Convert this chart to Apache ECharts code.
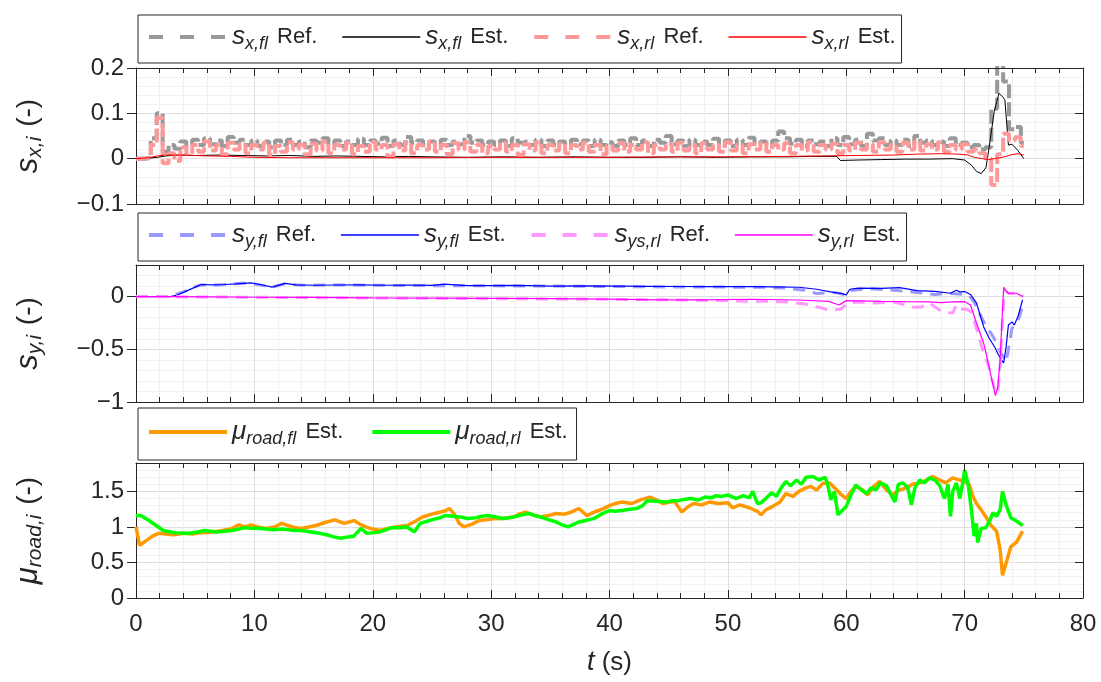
<!DOCTYPE html>
<html>
<head>
<meta charset="utf-8">
<script src="https://cdn.jsdelivr.net/npm/echarts@6/dist/echarts.min.js"></script>
<style>
  html, body { margin: 0; padding: 0; background: #ffffff; }
  #chart { width: 1101px; height: 682px; }
</style>
</head>
<body>
<div id="chart"></div>
<script>
// ---------- time base of the reference slip signals (0 ... 75 s, 0.5 s samples) ----------
const REF_DT = 0.5;
const REF_SAMPLES = 151;
const tRef = Array.from({ length: REF_SAMPLES }, (_, i) => i * REF_DT);

// ---------- longitudinal slip s_x ----------
const sxflRef = [
  0, 0, 0.001, 0.045, 0.1, 0.015, 0.03, 0.022, 0.038, 0.028,
  0.042, 0.03, 0.045, 0.032, 0.04, 0.028, 0.048, 0.035, 0.042, 0.03,
  0.04, 0.028, 0.038, 0.025, 0.04, 0.03, 0.042, 0.03, 0.038, 0.025,
  0.04, 0.035, 0.045, 0.03, 0.04, 0.028, 0.038, 0.03, 0.044, 0.03,
  0.04, 0.033, 0.046, 0.028, 0.04, 0.03, 0.048, 0.035, 0.04, 0.03,
  0.038, 0.028, 0.042, 0.03, 0.038, 0.032, 0.05, 0.035, 0.04, 0.03,
  0.038, 0.03, 0.04, 0.028, 0.045, 0.035, 0.038, 0.03, 0.042, 0.028,
  0.04, 0.03, 0.038, 0.03, 0.042, 0.032, 0.04, 0.028, 0.042, 0.03,
  0.036, 0.028, 0.04, 0.03, 0.045, 0.03, 0.04, 0.028, 0.042, 0.035,
  0.05, 0.032, 0.04, 0.028, 0.042, 0.03, 0.038, 0.03, 0.044, 0.03,
  0.04, 0.028, 0.042, 0.03, 0.046, 0.032, 0.038, 0.028, 0.04, 0.06,
  0.045, 0.033, 0.042, 0.028, 0.04, 0.032, 0.038, 0.028, 0.045, 0.03,
  0.048, 0.032, 0.042, 0.028, 0.055, 0.04, 0.045, 0.03, 0.04, 0.03,
  0.042, 0.028, 0.05, 0.035, 0.04, 0.03, 0.038, 0.028, 0.045, 0.03,
  0.035, 0.025, 0.03, 0.02, 0.025, 0.11, 0.22, 0.17, 0.065, 0.07,
  0.035
];
const sxrlRef = [
  0, 0, 0.002, 0.03, 0.09, -0.01, 0.012, -0.005, 0.025, 0.01,
  0.03, 0.015, 0.038, 0.018, 0.03, 0.01, 0.035, 0.02, 0.032, 0.012,
  0.03, 0.02, 0.035, 0.008, 0.028, 0.015, 0.036, 0.02, 0.03, 0.01,
  0.033, 0.018, 0.038, 0.012, 0.03, 0.02, 0.035, 0.01, 0.028, 0.015,
  0.037, 0.02, 0.03, 0.005, 0.032, 0.018, 0.035, 0.012, 0.03, 0.02,
  0.038, 0.015, 0.03, 0.01, 0.034, 0.02, 0.036, 0.015, 0.03, 0.012,
  0.028, 0.02, 0.035, 0.015, 0.03, 0.008, 0.032, 0.018, 0.036, 0.012,
  0.03, 0.018, 0.033, 0.012, 0.03, 0.02, 0.035, 0.015, 0.03, 0.01,
  0.028, 0.018, 0.034, 0.015, 0.03, 0.02, 0.036, 0.012, 0.03, 0.02,
  0.033, 0.015, 0.035, 0.018, 0.03, 0.012, 0.034, 0.02, 0.03, 0.015,
  0.036, 0.018, 0.03, 0.012, 0.032, 0.02, 0.035, 0.015, 0.03, 0.02,
  0.034, 0.012, 0.03, 0.018, 0.036, 0.015, 0.03, 0.02, 0.033, 0.012,
  0.03, 0.018, 0.035, 0.02, 0.032, 0.015, 0.036, 0.02, 0.03, 0.015,
  0.035, 0.02, 0.038, 0.018, 0.032, 0.02, 0.036, 0.015, 0.03, 0.02,
  0.032, 0.015, 0.02, 0.012, 0.0, -0.058, 0.01, 0.055, 0.04, 0.047,
  0.028
];
const tSxflEst = [0, 1, 1.8, 2.5, 3.5, 5, 7, 9, 11, 13, 15, 17, 19, 21, 23, 25, 28, 31, 34, 37,
  40, 43, 46, 49, 52, 55, 57, 59.2, 59.5, 61, 63, 65, 67, 69, 70, 70.6, 71, 71.4, 71.8, 72.1,
  72.5, 72.9, 73.2, 73.4, 73.7, 74, 74.5, 75];
const sxflEst = [0, 0.001, 0.003, 0.006, 0.008, 0.007, 0.008, 0.007, 0.006, 0.007, 0.005, 0.006, 0.005, 0.004, 0.005, 0.004, 0.003, 0.004, 0.003, 0.004,
  0.003, 0.003, 0.004, 0.003, 0.004, 0.004, 0.005, 0.005, -0.004, -0.003, -0.002, -0.001, -0.001, 0.0, -0.003, -0.015, -0.028, -0.033, -0.02, 0.03,
  0.104, 0.144, 0.137, 0.13, 0.03, 0.032, 0.018, 0.0];
const tSxrlEst = [0, 1, 1.8, 2.5, 4, 6, 8, 10, 13, 16, 20, 25, 30, 35, 40, 45, 50, 55, 58, 61,
  64, 66, 68, 69.5, 70.3, 70.8, 71.5, 72, 72.5, 73, 73.5, 74, 74.5, 75];
const sxrlEst = [0, 0.002, 0.006, 0.008, 0.008, 0.006, 0.005, 0.003, 0.002, 0.002, 0.002, 0.002, 0.003, 0.003, 0.003, 0.004, 0.004, 0.005, 0.006, 0.007,
  0.008, 0.01, 0.011, 0.01, 0.008, 0.003, 0.0, -0.002, 0.0, 0.002, 0.005, 0.009, 0.011, 0.008];

// ---------- lateral slip s_y ----------
const tSyflRef = [0, 2.5, 3, 4, 5, 5.5, 7, 9, 10, 11.5, 12.5, 14, 17, 20, 25, 30, 35, 40, 45, 50,
  53, 55, 56.5, 57.5, 59, 60, 60.5, 62, 64, 66, 67.5, 68.5, 69.5, 70.3, 70.8, 71.3, 71.8, 72.3, 72.7, 73,
  73.3, 73.5, 73.7, 74, 74.3, 74.6, 75];
const syflRef = [0, 0, 0.008, 0.045, 0.095, 0.11, 0.11, 0.128, 0.12, 0.09, 0.12, 0.108, 0.11, 0.108, 0.104, 0.102, 0.1, 0.096, 0.092, 0.09,
  0.088, 0.08, 0.06, 0.03, 0.04, 0.015, 0.06, 0.075, 0.06, 0.04, 0.02, 0.03, 0.025, 0.02, -0.05, -0.17, -0.28, -0.36, -0.44, -0.52,
  -0.58, -0.62, -0.5, -0.3, -0.26, -0.2, -0.05];
const tSyflEst = [0, 2.9, 3.5, 4.2, 5.0, 5.5, 6.5, 7.5, 8.5, 9.7, 10.5, 11.5, 12.6, 13.5, 15, 17, 19, 21, 23, 25,
  26, 28, 30, 32, 35, 38, 41, 43, 46, 48, 50, 52, 54, 56, 57.5, 58.9, 59.6, 60, 60.3, 61,
  63, 64.5, 66, 67.5, 68.8, 69.3, 69.6, 70, 70.5, 71, 71.6, 72.1, 72.6, 72.8, 73.1, 73.3, 73.5, 73.7, 74.0, 74.2,
  74.5, 74.9];
const syflEst = [0, 0, 0.015, 0.05, 0.09, 0.115, 0.112, 0.115, 0.12, 0.13, 0.115, 0.09, 0.125, 0.112, 0.108, 0.11, 0.112, 0.108, 0.11, 0.107,
  0.118, 0.105, 0.104, 0.106, 0.1, 0.102, 0.1, 0.098, 0.096, 0.094, 0.095, 0.095, 0.092, 0.089, 0.07, 0.041, 0.03, 0.016, 0.07, 0.08,
  0.079, 0.085, 0.057, 0.05, 0.032, 0.06, 0.045, 0.048, 0.02, -0.06, -0.285, -0.4, -0.49, -0.54, -0.6, -0.63, -0.48, -0.27, -0.24, -0.27,
  -0.19, -0.03];
const tSyrlRef = [0, 5, 10, 15, 20, 25, 30, 35, 40, 45, 50, 53, 55, 56.5, 58, 58.6, 59.5, 60.2, 61, 62.5,
  64, 65.7, 66.3, 67, 68.2, 69, 69.3, 69.6, 70.2, 70.6, 71, 71.5, 72, 72.3, 72.6, 72.8, 73, 73.2, 73.4, 73.7,
  74.2, 74.6, 75];
const syrlRef = [0, -0.003, -0.006, -0.01, -0.013, -0.016, -0.02, -0.022, -0.026, -0.03, -0.04, -0.045, -0.05, -0.07, -0.11, -0.13, -0.12, -0.06, -0.05, -0.06,
  -0.05, -0.1, -0.1, -0.06, -0.15, -0.155, -0.08, -0.12, -0.12, -0.15, -0.3, -0.5, -0.65, -0.78, -0.9, -0.92, -0.65, -0.2, 0.06, 0.03,
  0.03, 0.025, 0.0];
const tSyrlEst = [0, 3, 6, 10, 15, 20, 25, 30, 35, 40, 44, 48, 52, 56, 58.5, 59.4, 60, 61, 63, 65,
  67, 68, 69, 70, 70.5, 71, 71.6, 72, 72.3, 72.6, 72.8, 73.0, 73.2, 73.3, 73.5, 73.7, 74.4, 74.9];
const syrlEst = [0, 0, -0.003, -0.006, -0.008, -0.012, -0.014, -0.017, -0.02, -0.024, -0.03, -0.03, -0.025, -0.032, -0.045, -0.08, -0.038, -0.04, -0.045, -0.048,
  -0.05, -0.057, -0.05, -0.048, -0.08, -0.25, -0.44, -0.63, -0.79, -0.94, -0.86, -0.6, -0.13, 0.089, 0.057, 0.032, 0.032, 0.0];

// ---------- road friction estimate mu_road ----------
const tMuFl = [0, 0.3, 0.8, 1.4, 1.9, 2.5, 3.2, 4, 4.8, 5.5, 6.5, 7.3, 8, 8.7, 9.2, 9.7, 10.3, 11, 11.7, 12.3,
  13.2, 13.9, 14.6, 15.2, 16.1, 16.8, 17.6, 18.4, 18.9, 19.4, 20.0, 20.6, 21.3, 21.9, 22.9, 23.6, 24.2, 25.2, 26, 26.5,
  27.0, 27.3, 27.7, 28.4, 29, 29.6, 30.3, 31, 31.9, 32.4, 32.9, 33.5, 34.2, 34.8, 35.5, 36.2, 36.8, 37.4, 38.1, 38.7,
  39.4, 40, 40.5, 41, 41.9, 42.6, 43.4, 44, 44.5, 45.5, 46.1, 46.6, 47.1, 47.8, 48.4, 49.2, 50,
  50.4, 51.0, 51.8, 52.5, 52.8, 53.2, 53.8, 54.4, 54.9, 55.5, 56.0, 56.6, 57.0, 57.5, 58.0, 58.6, 59.2, 59.6, 60.0, 60.4,
  60.8, 61.4, 61.8, 62.2, 62.8, 63.4, 63.9, 64.5, 65.1, 65.6, 66.2, 66.8, 67.3, 67.9, 68.4, 69.0, 69.6, 70.0, 70.4, 70.7,
  71.0, 71.4, 71.8, 72.2, 72.7, 73.0, 73.2, 73.5, 73.9, 74.4, 74.9];
const muFl = [1.0, 0.74, 0.8, 0.87, 0.91, 0.9, 0.89, 0.91, 0.9, 0.92, 0.93, 0.95, 0.97, 1.03, 1.0, 1.03, 1.0, 0.98, 1.0, 1.05,
  1.0, 0.98, 1.0, 1.02, 1.07, 1.1, 1.05, 1.09, 1.04, 1.0, 0.97, 0.95, 0.98, 1.0, 1.02, 1.08, 1.14, 1.19, 1.22, 1.26,
  1.15, 1.05, 1.0, 1.04, 1.09, 1.1, 1.12, 1.12, 1.14, 1.18, 1.21, 1.17, 1.14, 1.16, 1.19, 1.18, 1.21, 1.26, 1.16, 1.21,
  1.25, 1.3, 1.33, 1.35, 1.33, 1.38, 1.42, 1.38, 1.33, 1.36, 1.21, 1.28, 1.33, 1.31, 1.35, 1.33, 1.34,
  1.27, 1.31, 1.27, 1.22, 1.17, 1.24, 1.29, 1.35, 1.47, 1.43, 1.5, 1.55, 1.57, 1.52, 1.61, 1.62, 1.52, 1.45, 1.4, 1.5,
  1.57, 1.52, 1.45, 1.55, 1.64, 1.52, 1.45, 1.52, 1.55, 1.6, 1.62, 1.66, 1.71, 1.66, 1.62, 1.69, 1.66, 1.64, 1.59, 1.43,
  1.33, 1.24, 1.14, 1.03, 0.94, 0.68, 0.32, 0.49, 0.72, 0.79, 0.94];
const tMuRl = [0, 0.4, 1.1, 1.7, 2.3, 2.9, 3.4, 4.0, 4.5, 5.2, 5.8, 6.3, 6.8, 7.5, 8.1, 8.7, 9.2, 9.8, 10.3, 11.0,
  11.6, 12.3, 12.9, 13.4, 13.9, 14.4, 14.8, 15.5, 16.1, 16.7, 17.3, 17.9, 18.4, 19.0, 19.5, 20.1, 20.6, 21.1, 21.6, 22.3,
  22.9, 23.5, 24.0, 24.6, 25.2, 25.7, 26.1, 26.8, 27.4, 28.0, 28.7, 29.2, 29.7, 30.4, 31.0, 31.5, 31.9, 32.6, 33.2, 33.7,
  34.2, 34.9, 35.5, 36.0, 36.5, 37.0, 37.4, 38.0, 38.7, 39.3, 40.0, 40.5, 41.0, 41.7, 42.3, 42.8, 43.2, 44.0, 44.8, 45.3,
  45.8, 46.4, 46.9, 47.5, 48.1, 48.6, 49.0, 49.5, 50.0,
  50.7, 51.3, 51.8, 52.1, 52.5, 52.8, 53.2, 53.7, 54.1, 54.5, 54.9, 55.3, 55.8, 56.2, 56.6, 57.2, 57.7, 58.2, 58.4, 58.7,
  59.0, 59.3, 59.6, 60.0, 60.4, 60.8, 61.3, 61.7, 62.1, 62.5, 62.9, 63.4, 63.8, 64.1, 64.4, 64.8, 65.2, 65.5, 65.8, 66.2,
  66.6, 67.0, 67.5, 67.9, 68.3, 68.6, 68.8, 69.0, 69.3, 69.6, 69.9, 70.0, 70.3, 70.6, 70.8, 71.0, 71.1, 71.4, 71.8, 72.1,
  72.4, 72.7, 73.0, 73.2, 73.5, 73.9, 74.4, 74.9];
const muRl = [1.16, 1.16, 1.09, 1.02, 0.95, 0.93, 0.92, 0.91, 0.91, 0.93, 0.95, 0.94, 0.93, 0.94, 0.95, 0.97, 0.99, 0.98, 0.98, 0.97,
  0.96, 0.97, 0.96, 0.95, 0.95, 0.94, 0.93, 0.91, 0.89, 0.86, 0.84, 0.86, 0.87, 0.98, 0.91, 0.92, 0.93, 0.96, 0.99, 0.99,
  1.0, 0.93, 1.05, 1.08, 1.11, 1.13, 1.16, 1.15, 1.14, 1.12, 1.13, 1.15, 1.16, 1.14, 1.12, 1.13, 1.14, 1.17, 1.19, 1.16,
  1.14, 1.1, 1.07, 1.03, 1.0, 1.04, 1.07, 1.09, 1.12, 1.18, 1.23, 1.22, 1.23, 1.25, 1.26, 1.3, 1.37, 1.36, 1.35, 1.37,
  1.37, 1.39, 1.4, 1.38, 1.42, 1.41, 1.44, 1.43, 1.45,
  1.40, 1.44, 1.41, 1.5, 1.33, 1.34, 1.40, 1.48, 1.43, 1.55, 1.64, 1.58, 1.66, 1.60, 1.70, 1.71, 1.66, 1.70, 1.62, 1.38,
  1.50, 1.17, 1.22, 1.29, 1.45, 1.59, 1.52, 1.47, 1.55, 1.52, 1.62, 1.58, 1.45, 1.35, 1.60, 1.62, 1.55, 1.31, 1.55, 1.66,
  1.62, 1.69, 1.66, 1.58, 1.40, 1.60, 1.15, 1.50, 1.62, 1.40, 1.68, 1.80, 1.60, 1.20, 0.87, 1.05, 0.78, 0.98, 0.99, 1.08,
  1.2, 1.15, 1.24, 1.5, 1.31, 1.13, 1.08, 1.02];

// ---------- axis ranges / ticks ----------
const xRange = { min: 0, max: 80, interval: 10 };
const yRanges = [
  { min: -0.1, max: 0.2, interval: 0.1 },
  { min: -1, max: 0.3, interval: 0.5 },
  { min: 0, max: 1.9, interval: 0.5 }
];

// ---------- styling ----------
const FONT = '"Liberation Sans", Arial, Helvetica, sans-serif';
const INK = '#262626';
const GRID_MAJOR = '#dedede';
const GRID_MINOR = '#f1f1f1';
const PLOT = { left: 136, width: 947 };
const PANELS = [
  { top: 68, height: 136 },
  { top: 265, height: 137 },
  { top: 463, height: 135 }
];

const pair = (t, v) => t.slice(0, Math.min(t.length, v.length)).map((x, i) => [x, v[i]]);
const fmtTick = v => String(+v.toFixed(2)).replace('-', '\u2212');

// bottom/left axes carry the grid (drawn beneath the data); top/right axes only add the box ticks
function xAxisFor(gi, position, withLabels) {
  const bottom = position === 'bottom';
  const ax = {
    type: 'value', gridIndex: gi, position,
    min: xRange.min, max: xRange.max, interval: xRange.interval,
    axisLine: { show: true, onZero: false, lineStyle: { color: INK, width: 1 } },
    axisTick: { show: true, inside: true, length: 8, lineStyle: { color: INK, width: 1 } },
    minorTick: { show: true, splitNumber: 5, length: 5, lineStyle: { color: INK, width: 1 } },
    splitLine: { show: bottom, lineStyle: { color: GRID_MAJOR, width: 1 } },
    minorSplitLine: { show: bottom, lineStyle: { color: GRID_MINOR, width: 1 } },
    axisLabel: {
      show: withLabels, margin: 14, color: INK, fontFamily: FONT, fontSize: 24,
      showMinLabel: true, showMaxLabel: true, formatter: fmtTick
    },
    z: bottom ? 0 : 4
  };
  if (withLabels) {
    ax.name = '{it|t} (s)';
    ax.nameLocation = 'middle';
    ax.nameGap = 51;
    ax.nameTextStyle = {
      color: INK, fontFamily: FONT, fontSize: 26,
      rich: { it: { fontFamily: FONT, fontStyle: 'italic', fontSize: 27, color: INK } }
    };
  }
  return ax;
}

function yAxisFor(gi, position, name) {
  const r = yRanges[gi];
  const left = position === 'left';
  const ax = {
    type: 'value', gridIndex: gi, position,
    min: r.min, max: r.max, interval: r.interval,
    axisLine: { show: true, onZero: false, lineStyle: { color: INK, width: 1 } },
    axisTick: { show: true, inside: !left, length: left ? 9 : 8, lineStyle: { color: INK, width: 1 } },
    minorTick: { show: false },
    splitLine: { show: left, lineStyle: { color: GRID_MAJOR, width: 1 } },
    minorSplitLine: { show: left, lineStyle: { color: GRID_MINOR, width: 1 } },
    axisLabel: {
      show: left, margin: 12, color: INK, fontFamily: FONT, fontSize: 24,
      showMinLabel: true, showMaxLabel: gi === 0, formatter: fmtTick
    },
    z: left ? 0 : 4
  };
  if (left) {
    ax.name = name;
    ax.nameLocation = 'middle';
    ax.nameRotate = 90;
    ax.nameGap = 90;
    ax.nameTextStyle = {
      color: INK, fontFamily: FONT, fontSize: 28,
      rich: {
        v: { fontFamily: FONT, fontStyle: 'italic', fontSize: 31, color: INK },
        sub: { fontFamily: FONT, fontStyle: 'italic', fontSize: 21, color: INK, padding: [15, 2, 0, 0] }
      }
    };
  }
  return ax;
}

// legend captions
const CAPTIONS = {
  sxflRef: '{v|s}{sub|x,fl} Ref.',
  sxflEst: '{v|s}{sub|x,fl} Est.',
  sxrlRef: '{v|s}{sub|x,rl} Ref.',
  sxrlEst: '{v|s}{sub|x,rl} Est.',
  syflRef: '{v|s}{sub|y,fl} Ref.',
  syflEst: '{v|s}{sub|y,fl} Est.',
  syrlRef: '{v|s}{sub|ys,rl} Ref.',
  syrlEst: '{v|s}{sub|y,rl} Est.',
  muFl: '{m|\u03bc}{sub|road,fl} Est.',
  muRl: '{m|\u03bc}{sub|road,rl} Est.'
};

// series definitions: name, panel, data, colour, width, dash
const SERIES = [
  { name: 'sxflRef', gi: 0, data: pair(tRef, sxflRef), color: '#999999', width: 4, dash: [14, 4], step: 'middle' },
  { name: 'sxflEst', gi: 0, data: pair(tSxflEst, sxflEst), color: '#000000', width: 1 },
  { name: 'sxrlRef', gi: 0, data: pair(tRef, sxrlRef), color: '#ff9999', width: 4, dash: [14, 4], step: 'middle' },
  { name: 'sxrlEst', gi: 0, data: pair(tSxrlEst, sxrlEst), color: '#ff0000', width: 1 },
  { name: 'syflRef', gi: 1, data: pair(tSyflRef, syflRef), color: '#9999ff', width: 3, dash: [12, 8] },
  { name: 'syflEst', gi: 1, data: pair(tSyflEst, syflEst), color: '#0000ff', width: 1.2 },
  { name: 'syrlRef', gi: 1, data: pair(tSyrlRef, syrlRef), color: '#ff99ff', width: 3, dash: [12, 8] },
  { name: 'syrlEst', gi: 1, data: pair(tSyrlEst, syrlEst), color: '#ff00ff', width: 1.2 },
  { name: 'muFl', gi: 2, data: pair(tMuFl, muFl), color: '#ff9900', width: 3.5 },
  { name: 'muRl', gi: 2, data: pair(tMuRl, muRl), color: '#00ff00', width: 3.5 }
];

const LEGEND_TOPS = [15, 213, 408];
const LEGEND_GAPS = [24, 24, 27];
const LEGEND_PADDING = [[9, 6, 10, 9], [9, 6, 10, 9], [11, 9, 12, 9]];
const legendText = {
  color: INK, fontFamily: FONT, fontSize: 22,
  rich: {
    v: { fontFamily: FONT, fontStyle: 'italic', fontSize: 26, color: INK },
    m: { fontFamily: FONT, fontStyle: 'italic', fontSize: 26, color: INK },
    sub: { fontFamily: FONT, fontStyle: 'italic', fontSize: 18, color: INK, padding: [14, 3, 0, 0] }
  }
};

const legends = [0, 1, 2].map(gi => ({
  show: true,
  left: 138,
  top: LEGEND_TOPS[gi],
  orient: 'horizontal',
  itemWidth: 78,
  itemHeight: 14,
  itemGap: LEGEND_GAPS[gi],
  padding: LEGEND_PADDING[gi],
  borderColor: INK,
  borderWidth: 1,
  backgroundColor: '#ffffff',
  selectedMode: false,
  textStyle: legendText,
  formatter: n => CAPTIONS[n],
  data: SERIES.filter(s => s.gi === gi).map(s => ({
    name: s.name,
    // the line sample only: no marker on the legend key
    itemStyle: { color: 'rgba(0,0,0,0)', opacity: 0, borderWidth: 0 },
    lineStyle: { color: s.color, opacity: 1, width: s.width > 2 ? 4 : 1.6, type: s.dash ? [14, 17] : 'solid' }
  }))
}));

const option = {
  backgroundColor: '#ffffff',
  animation: false,
  textStyle: { fontFamily: FONT },
  grid: PANELS.map(p => ({ left: PLOT.left, width: PLOT.width, top: p.top, height: p.height, outerBoundsMode: 'none', containLabel: false })),
  xAxis: [
    xAxisFor(0, 'bottom', false), xAxisFor(0, 'top', false),
    xAxisFor(1, 'bottom', false), xAxisFor(1, 'top', false),
    xAxisFor(2, 'bottom', true), xAxisFor(2, 'top', false)
  ],
  yAxis: [
    yAxisFor(0, 'left', '{v|s}{sub|x,i} (-)'), yAxisFor(0, 'right'),
    yAxisFor(1, 'left', '{v|s}{sub|y,i} (-)'), yAxisFor(1, 'right'),
    yAxisFor(2, 'left', '{v|\u03bc}{sub|road,i} (-)'), yAxisFor(2, 'right')
  ],
  legend: legends,
  series: SERIES.map(s => ({
    name: s.name,
    type: 'line',
    xAxisIndex: s.gi * 2,
    yAxisIndex: s.gi * 2,
    data: s.data,
    step: s.step || false,
    showSymbol: false,
    symbol: 'none',
    clip: true,
    silent: true,
    color: s.color,
    lineStyle: { color: s.color, width: s.width, type: s.dash || 'solid', cap: 'butt' },
    z: 2
  }))
};

const chart = echarts.init(document.getElementById('chart'), null, { renderer: 'canvas' });
chart.setOption(option);
</script>
</body>
</html>
